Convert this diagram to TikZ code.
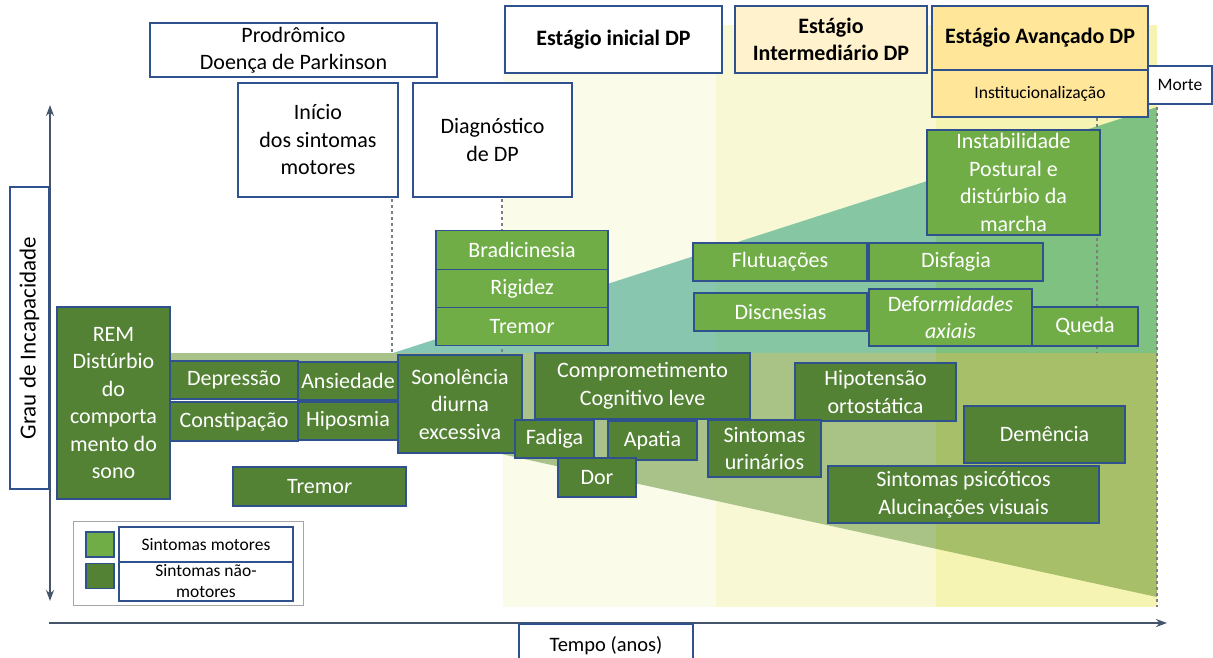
\documentclass[tikz,border=0pt]{standalone}
\usepackage{fontspec}
\setmainfont{Carlito}
\usepackage{xcolor}
\definecolor{bxblue}{HTML}{2F528F}
\definecolor{mgreen}{HTML}{70AD47}
\definecolor{ngreen}{HTML}{548235}
\definecolor{axgray}{HTML}{44546A}
\definecolor{dshgray}{HTML}{7F7F7F}
\definecolor{leggray}{HTML}{A6A6A6}
\definecolor{ylight}{HTML}{FFF2CC}
\definecolor{ygold}{HTML}{FFE699}
\definecolor{bandA}{HTML}{FBFBEA}
\definecolor{bandB}{HTML}{F8F8D5}
\definecolor{bandC}{HTML}{F5F4B3}
\definecolor{tealO}{HTML}{85C6B5}
\definecolor{tealA}{HTML}{88C6B0}
\definecolor{tealB}{HTML}{86C6A2}
\definecolor{tealC}{HTML}{7EC180}
\definecolor{lowA}{HTML}{A9C28A}
\definecolor{lowB}{HTML}{A8C385}
\definecolor{lowC}{HTML}{A8BF6A}
\usepackage{tikz}
\usetikzlibrary{arrows.meta,positioning}
\newcommand{\fsmain}{\fontsize{22}{27.5}\selectfont}
\newcommand{\fssmall}{\fontsize{17.5}{21}\selectfont}

\begin{document}
\begin{tikzpicture}[x=1pt,y=-1pt,>={Stealth[length=11pt,width=8pt]}]
\tikzset{
 hd/.style={draw=bxblue,line width=1.1pt,fill=white,align=center,inner sep=0pt,outer sep=0pt,font=\fsmain},
 mt/.style={hd,fill=mgreen,text=white},
 nm/.style={hd,fill=ngreen,text=white},
 sz/.style 2 args={minimum width=#1,minimum height=#2},
 dl/.style={dshgray,dashed,line width=1.2pt},
 ax/.style={axgray,line width=2.7pt}
}
\useasboundingbox (0,0) rectangle (1213,657);
% stage bands
\fill[bandA] (503,25) rectangle (716,607);
\fill[bandB] (716,25) rectangle (936,607);
\fill[bandC] (936,25) rectangle (1157,607);
% motor wedge
\begin{scope}
\clip (393,353) -- (1157,107) -- (1157,353) -- cycle;
\fill[tealO] (390,100) rectangle (503,353);
\fill[tealA] (503,100) rectangle (716,353);
\fill[tealB] (716,100) rectangle (936,353);
\fill[tealC] (936,100) rectangle (1157,353);
\end{scope}
% non-motor wedge
\begin{scope}
\clip (170,353) -- (1157,353) -- (1157,597) -- (460,445) -- (398,361) -- (170,361) -- cycle;
\fill[lowA] (170,353) rectangle (716,600);
\fill[lowB] (716,353) rectangle (936,600);
\fill[lowC] (936,353) rectangle (1157,600);
\end{scope}
% dashed markers
\coordinate (d1a) at (392,199); \coordinate (d1b) at (392,353);
\coordinate (d2a) at (502,199); \coordinate (d2b) at (502,355);
\coordinate (d3a) at (1097,118); \coordinate (d3b) at (1097,353);
\coordinate (d4a) at (1157,107); \coordinate (d4b) at (1157,607);
\foreach \i/\j in {d1a/d1b,d2a/d2b,d3a/d3b,d4a/d4b}{\draw[dl] (\i)--(\j);}
% axes
\coordinate (yb) at (50,601); \coordinate (yt) at (50,105);
\coordinate (xl) at (49,623); \coordinate (xr) at (1167,623);
\draw[ax,<->] (yb) -- (yt);
\draw[ax,->] (xl) -- (xr);
% headers
\node[hd,sz={287pt}{54pt}] (prod) at (293.5,50) {Prodrômico\\Doença de Parkinson};
\node[hd,sz={217pt}{67pt},font=\fsmain\bfseries] (est1) at (613.5,39.5) {Estágio inicial DP};
\node[hd,fill=ylight,sz={192pt}{67pt},font=\fsmain\bfseries] (est2) at (831,39.5) {Estágio\\Intermediário DP};
\node[hd,fill=ygold,sz={216pt}{64pt},font=\fsmain\bfseries] (est3) at (1040,38) {Estágio Avançado DP};
\node[hd,fill=ygold,sz={216pt}{47pt},font=\fssmall,below=0pt of est3] (inst) {Institucionalização};
\node[hd,sz={64pt}{38pt},font=\fssmall] (morte) at (1180,85) {Morte};
\node[hd,sz={160pt}{114pt}] (ini) at (318,140) {Início\\dos sintomas\\motores};
\node[hd,sz={159pt}{114pt}] (diag) at (492.5,140) {Diagnóstico\\de DP};
\node[hd,rotate=90,sz={302pt}{39pt},font=\fontsize{23}{27}\selectfont] (grau) at (29.5,338) {Grau de Incapacidade};
\node[hd,sz={174pt}{44pt},font=\fontsize{20.5}{24}\selectfont] (tempo) at (606,646) {Tempo (anos)};
% motor symptoms
\node[mt,sz={172pt}{38.3pt}] (brad) at (522,250) {Bradicinesia};
\node[mt,sz={172pt}{38.3pt},below=0pt of brad] (rig) {Rigidez};
\node[mt,sz={172pt}{38.3pt},below=0pt of rig] (trm1) {Tremo\textit{r}};
\node[mt,sz={174pt}{38pt}] (flut) at (780,262) {Flutuações};
\node[mt,sz={174pt}{38pt}] (disf) at (956,262) {Disfagia};
\node[mt,sz={173pt}{38pt}] (disc) at (780.5,312) {Discnesias};
\node[mt,sz={163pt}{57pt}] (defo) at (950.5,317.5) {Defor\textit{midades}\\\textit{axiais}};
\node[mt,sz={106pt}{39pt}] (qued) at (1085,326.5) {Queda};
\node[mt,sz={173pt}{105pt}] (inst2) at (1013.5,182.5) {Instabilidade\\Postural e\\distúrbio da\\marcha};
% non-motor symptoms
\node[nm,sz={113pt}{192pt}] (rem) at (113.5,403) {REM\\Distúrbio\\do\\comporta\\mento do\\sono};
\node[nm,sz={128pt}{38pt}] (depr) at (234,380) {Depressão};
\node[nm,sz={128pt}{39pt}] (cons) at (234,421.5) {Constipação};
\node[nm,sz={100pt}{38pt}] (ansi) at (348,381) {Ansiedade};
\node[nm,sz={100pt}{38pt}] (hipo) at (348,421) {Hiposmia};
\node[nm,sz={124pt}{98pt}] (sono) at (460,404) {Sonolência\\diurna\\excessiva};
\node[nm,sz={173pt}{39pt}] (trm2) at (319.5,486.5) {Tremo\textit{r}};
\node[nm,sz={215pt}{66pt}] (comp) at (642.5,386) {Comprometimento\\Cognitivo leve};
\node[nm,sz={79pt}{38pt}] (fadi) at (554.5,439) {Fadiga};
\node[nm,sz={89pt}{39pt}] (apat) at (652.5,440.5) {Apatia};
\node[nm,sz={78pt}{39pt}] (dor) at (597,477.5) {Dor};
\node[nm,sz={161pt}{58pt}] (hipt) at (875.5,392) {Hipotensão\\ortostática};
\node[nm,sz={113pt}{57pt}] (urin) at (764.5,448.5) {Sintomas\\urinários};
\node[nm,sz={161pt}{57pt}] (deme) at (1044.5,434.5) {Demência};
\node[nm,sz={271pt}{57pt}] (psic) at (963.5,494.5) {Sintomas psicóticos\\Alucinações visuais};
% legend
\node[draw=leggray,line width=1pt,fill=white,sz={230pt}{84pt}] (leg) at (188,563) {};
\node[mt,sz={28pt}{25pt}] (lgm) at (100,544.5) {};
\node[nm,sz={28pt}{25pt}] (lgn) at (100,576) {};
\node[hd,sz={174pt}{35pt},font=\fssmall] (ltm) at (206,544.5) {Sintomas motores};
\node[hd,sz={174pt}{39pt},font=\fssmall] (ltn) at (206,581.5) {Sintomas não-\\motores};
\end{tikzpicture}
\end{document}
